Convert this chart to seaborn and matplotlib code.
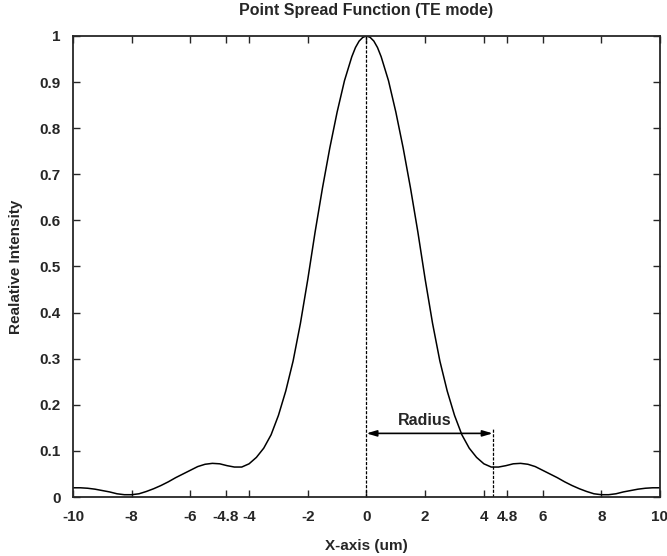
import numpy as np
import pandas as pd
import matplotlib
matplotlib.use("Agg")
import matplotlib.pyplot as plt
import seaborn as sns

# --- data (symmetric PSF, TE mode) ---
x_um = [-10.0, -9.75, -9.5, -9.25, -9.0, -8.75, -8.5, -8.25, -8.0, -7.75,
        -7.5, -7.25, -7.0, -6.75, -6.5, -6.25, -6.0, -5.75, -5.5, -5.25,
        -5.0, -4.75, -4.5, -4.25, -4.0, -3.75, -3.5, -3.25, -3.0, -2.75,
        -2.5, -2.25, -2.0, -1.75, -1.5, -1.25, -1.0, -0.75, -0.5, -0.375,
        -0.25, -0.125, 0.0, 0.125, 0.25,
        0.375, 0.5, 0.75, 1.0, 1.25, 1.5, 1.75, 2.0, 2.25, 2.5,
        2.75, 3.0, 3.25, 3.5, 3.75, 4.0, 4.25, 4.5, 4.75, 5.0,
        5.25, 5.5, 5.75, 6.0, 6.25, 6.5, 6.75, 7.0, 7.25, 7.5,
        7.75, 8.0, 8.25, 8.5, 8.75, 9.0, 9.25, 9.5, 9.75, 10.0]
intensity = [0.020, 0.020, 0.019, 0.017, 0.014, 0.011, 0.007, 0.005, 0.005, 0.007,
             0.012, 0.018, 0.025, 0.033, 0.042, 0.050, 0.058, 0.066, 0.071, 0.073,
             0.072, 0.068, 0.065, 0.065, 0.072, 0.086, 0.106, 0.135, 0.177, 0.230,
             0.295, 0.377, 0.472, 0.575, 0.670, 0.757, 0.835, 0.903, 0.955, 0.975,
             0.989, 0.997, 1.000, 0.997, 0.989,
             0.975, 0.955, 0.903, 0.835, 0.757, 0.670, 0.575, 0.472, 0.377, 0.295,
             0.230, 0.177, 0.135, 0.106, 0.086, 0.072, 0.065, 0.065, 0.068, 0.072,
             0.073, 0.071, 0.066, 0.058, 0.050, 0.042, 0.033, 0.025, 0.018, 0.012,
             0.007, 0.005, 0.005, 0.007, 0.011, 0.014, 0.017, 0.019, 0.020, 0.020]

x_ticks = [-10, -8, -6, -4.8, -4, -2, 0, 2, 4, 4.8, 6, 8, 10]
x_tick_labels = ["-10", "-8", "-6", "-4.8", "-4", "-2", "0", "2", "4", "4.8", "6", "8", "10"]
y_ticks = [0, 0.1, 0.2, 0.3, 0.4, 0.5, 0.6, 0.7, 0.8, 0.9, 1.0]
y_tick_labels = ["0", "0.1", "0.2", "0.3", "0.4", "0.5", "0.6", "0.7", "0.8", "0.9", "1"]

radius_x = 4.3     # edge of the main lobe (first minimum)
radius_y = 0.138   # height of the double arrow

df = pd.DataFrame({"x": x_um, "I": intensity})

sns.set_style("ticks")
plt.rcParams['font.family'] = ['Liberation Sans', 'DejaVu Sans']
plt.rcParams['font.weight'] = 'bold'

fig = plt.figure(figsize=(6.67, 5.56), dpi=100)
ax = fig.add_axes([0.1094, 0.1061, 0.8801, 0.8292])

sns.lineplot(data=df, x="x", y="I", color="black", linewidth=1.1, ax=ax)

# guide lines and radius arrow
ax.plot([0, 0], [0, 1], color="black", linestyle=(0, (2.5, 1.2)), linewidth=0.9)
ax.plot([radius_x, radius_x], [0, radius_y + 0.01], color="black",
        linestyle=(0, (2.5, 1.2)), linewidth=0.9)
ax.annotate("", xy=(radius_x, radius_y), xytext=(0, radius_y),
            arrowprops=dict(arrowstyle="<|-|>,head_length=0.6,head_width=0.18",
                            color="black", linewidth=1.2, shrinkA=0, shrinkB=0))
ax.text(2.0, 0.165, "Radius", ha="center", va="center", fontsize=11.5, fontweight="bold")

ax.set_xlim(-10, 10)
ax.set_ylim(0, 1)
ax.set_xticks(x_ticks)
ax.set_xticklabels(x_tick_labels)
ax.set_yticks(y_ticks)
ax.set_yticklabels(y_tick_labels)
ax.tick_params(direction="in", top=True, right=True, length=5, width=1,
               labelsize=11, pad=9)
for lab in ax.get_xticklabels() + ax.get_yticklabels():
    lab.set_fontweight("bold")
for sp in ax.spines.values():
    sp.set_visible(True)
    sp.set_linewidth(1.3)

ax.set_title("Point Spread Function (TE mode)", fontsize=11.5, fontweight="bold", pad=15)
ax.set_xlabel("X-axis (um)", fontsize=11, fontweight="bold", labelpad=11)
ax.set_ylabel("Realative Intensity", fontsize=11, fontweight="bold", labelpad=12)

fig.savefig("out.png", dpi=100)
